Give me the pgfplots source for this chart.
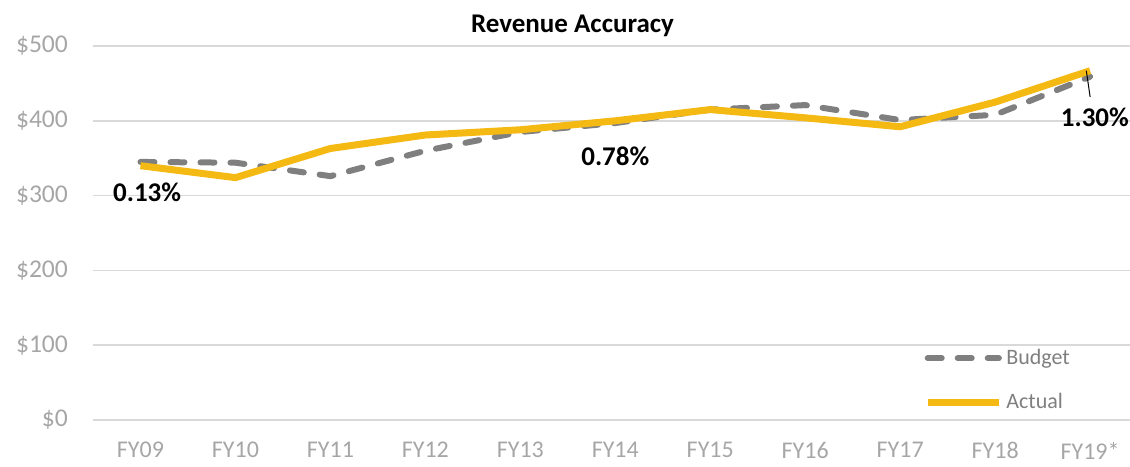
\documentclass[border=0pt]{standalone}
\usepackage{pgfplots}
\pgfplotsset{compat=1.18}
\usepackage{fontspec}
\setmainfont{Carlito}
\definecolor{actual}{HTML}{F5B914}
\definecolor{budget}{HTML}{7F7F7F}
\definecolor{gridc}{HTML}{D9D9D9}
\definecolor{tickc}{HTML}{A6A6A6}

\begin{document}
\begin{tikzpicture}
% fixed frame so the page keeps the reference proportions
\useasboundingbox (-46.5pt,-23pt) rectangle (518.5pt,210pt);
\begin{axis}[
  at={(0,0)}, anchor=south west,
  scale only axis, width=518.5pt, height=187pt,
  xmin=-0.5, xmax=10.42, ymin=0, ymax=500,
  axis line style={draw=none},
  xtick={0,...,10},
  xticklabels={FY09,FY10,FY11,FY12,FY13,FY14,FY15,FY16,FY17,FY18,FY19*},
  ytick={0,100,...,500},
  yticklabel={\$\pgfmathprintnumber{\tick}},
  major tick length=0pt,
  ymajorgrids, grid style={gridc, line width=0.8pt},
  tick label style={font=\fontsize{12}{14}\selectfont, text=tickc},
  yticklabel style={font=\fontsize{12.8}{14}\selectfont, xshift=-9pt},
  xticklabel style={inner ysep=0pt, yshift=-11pt},
  /pgf/number format/assume math mode=true,
  clip=false,
  legend style={draw=none, fill=none, at={(0.952,0.0)}, anchor=south east,
    font=\fontsize{11}{13}\selectfont, text=budget, row sep=9pt,
    /tikz/every even column/.append style={column sep=1pt}},
  legend cell align=left,
  legend image code/.code={\draw[#1] (0cm,0cm) -- (1.25cm,0cm);},
]
\addplot[budget, line width=3pt, line cap=round, dash pattern=on 7pt off 8pt] coordinates {
  (0,345) (1,344) (2,326) (3,360) (4,385) (5,397) (6,415) (7,421) (8,401) (9,408) (10,459)
};
\addlegendentry{Budget}
\addplot[actual, line width=3.5pt, line join=round] coordinates {
  (0,340) (1,324) (2,363) (3,381) (4,388) (5,400) (6,415) (7,404) (8,392) (9,425) (10,467)
};
\addlegendentry{Actual}
\node[font=\bfseries\fontsize{13.5}{15}\selectfont] at (axis cs:0.07,305) {0.13\%};
\node[font=\bfseries\fontsize{13.5}{15}\selectfont] at (axis cs:5.0,352) {0.78\%};
\draw[black, line width=0.5pt] (axis cs:9.96,467) -- (axis cs:10.0,432);
\node[font=\bfseries\fontsize{13.5}{15}\selectfont] at (axis cs:10.05,405) {1.30\%};
\node[font=\bfseries\fontsize{13.5}{15}\selectfont] at (axis cs:4.55,527) {Revenue Accuracy};
\end{axis}
\end{tikzpicture}
\end{document}
